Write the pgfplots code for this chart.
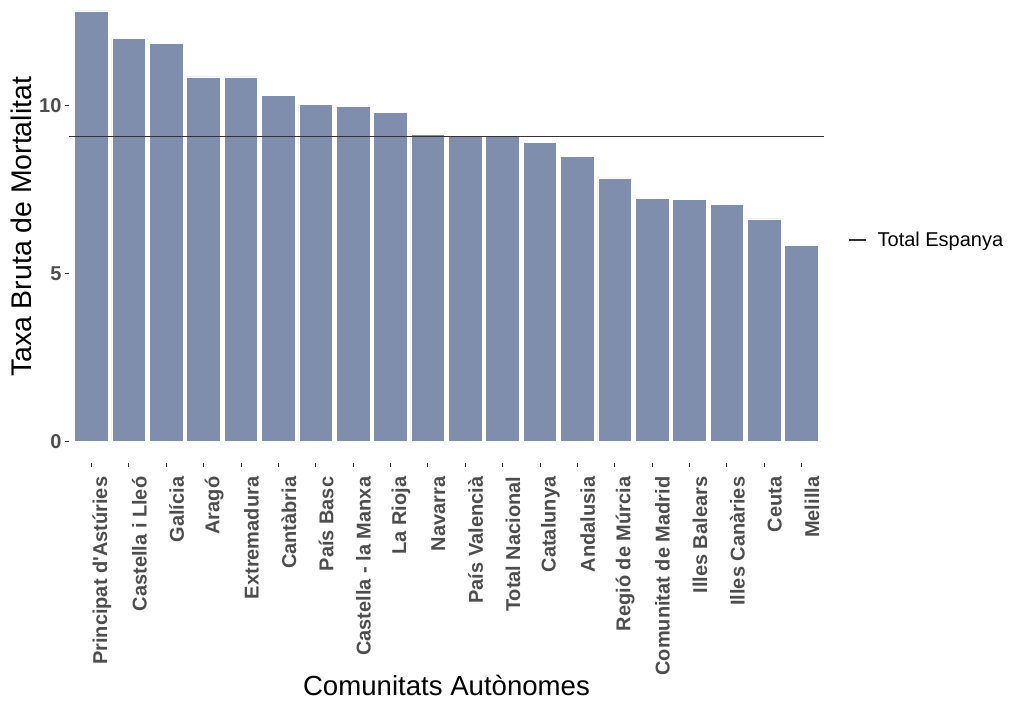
\documentclass[border=0pt]{standalone}
\usepackage{pgfplots}
\pgfplotsset{compat=1.18}
\usepackage{fontspec}
\setmainfont{Liberation Sans}
\definecolor{barc}{HTML}{7F8EAD}
\definecolor{tickc}{HTML}{4D4D4D}
\definecolor{linec}{HTML}{333333}
\begin{document}
\begin{tikzpicture}[x=1pt,y=1pt]
\begin{axis}[
  at={(69pt,-463.2pt)}, anchor=south west,
  scale only axis,
  width=755pt, height=463.2pt,
  xmin=0.4, xmax=20.6,
  ymin=-0.641, ymax=13.146,
  axis x line*=bottom, axis y line*=left,
  axis line style={draw=none},
  tick style={draw=linec, line width=0.7pt},
  tick align=outside,
  major tick length=4pt,
  xtick={1,...,20},
  ytick={0,5,10},
  /pgf/number format/assume math mode=true,
  xticklabels={Principat d\textquotesingle Astúries, Castella i Lleó, Galícia, Aragó, Extremadura, Cantàbria, País Basc, Castella - la Manxa, La Rioja, Navarra, País Valencià, Total Nacional, Catalunya, Andalusia, Regió de Múrcia, Comunitat de Madrid, Illes Balears, Illes Canàries, Ceuta, Melilla},
  xticklabel style={rotate=90, anchor=east, xshift=-6pt, yshift=-10.5pt, font=\fontsize{20}{24}\selectfont\bfseries, text=tickc},
  yticklabel style={font=\fontsize{20}{24}\selectfont\bfseries, text=tickc},
  xlabel={Comunitats Autònomes},
  xlabel style={at={(axis description cs:0.5,0)}, anchor=base, yshift=-231.8pt, font=\fontsize{27.6}{32}\selectfont},
  ylabel={Taxa Bruta de Mortalitat},
  ylabel style={at={([xshift=-37pt]axis description cs:0,0.51)}, anchor=base, font=\fontsize{28.4}{32}\selectfont},
  legend style={at={(axis description cs:1,0.482)}, anchor=west, xshift=24pt, draw=none, fill=none, inner sep=0pt, font=\fontsize{20}{24}\selectfont},
  legend cell align=left,
  legend image code/.code={\draw[#1] (0pt,0pt) -- (17pt,0pt); \path (26pt,0pt);},
]
\addplot[ybar, bar width=0.9, fill=barc, draw=white, line width=0.6pt, forget plot] coordinates {
(1,12.82) (2,12.00) (3,11.86) (4,10.86) (5,10.86) (6,10.30) (7,10.05) (8,9.97) (9,9.81) (10,9.15)
(11,9.12) (12,9.08) (13,8.90) (14,8.50) (15,7.85) (16,7.25) (17,7.22) (18,7.07) (19,6.63) (20,5.85)
};
\addplot[color=linec, line width=1.4pt, mark=none] coordinates {(0.4,9.08) (20.6,9.08)};
\addlegendentry{Total Espanya}
\end{axis}
\pgfresetboundingbox
\path (0pt,0pt) rectangle (1009pt,-702pt);
\end{tikzpicture}
\end{document}
